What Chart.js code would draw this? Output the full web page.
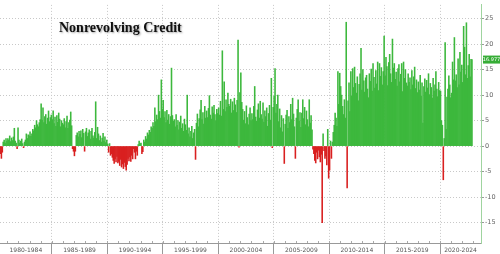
<!DOCTYPE html>
<html>
<head>
<meta charset="utf-8">
<script src="https://cdn.jsdelivr.net/npm/chart.js@4.4.1/dist/chart.umd.min.js"></script>
<style>
  html, body { margin: 0; padding: 0; background: #fff; }
  canvas { display: block; }
</style>
</head>
<body>
<canvas id="creditChart" width="500" height="254"></canvas>
<script>
// monthly change in nonrevolving consumer credit, $bn, May 1980 .. Nov 2022
const startYear = 1980;
const startMonth = 4; // May
const monthlyChange = [
  -1.5, -2.4, -1.2, 0.8, 1.2, 0.6, 1.5, 1.0,                      // 1980
  1.5, 1.2, 2.0, 0.9, 1.6, 1.1, 1.8, 3.5, 1.0, 0.6, -0.5, 3.6,    // 1981
  1.2, 0.6, 1.0, 1.4, 0.5, -0.3, 0.8, 1.2, 2.4, 1.5, 2.2, 2.0,    // 1982
  2.8, 1.9, 2.4, 3.3, 3.0, 4.1, 3.6, 5.0, 4.2, 3.8, 4.6, 5.2,     // 1983
  8.3, 5.1, 7.5, 4.6, 5.8, 6.2, 4.3, 5.5, 6.9, 4.8, 5.6, 6.1,     // 1984
  5.2, 6.9, 4.4, 5.7, 3.9, 6.0, 4.7, 6.5, 5.3, 3.8, 5.0, 4.5,     // 1985
  4.2, 5.4, 3.6, 4.8, 5.9, 3.5, 4.6, 5.1, 6.7, 4.0, -0.5, -1.0,   // 1986
  -1.9, -1.0, 2.1, 2.6, 1.8, 2.9, 2.3, 3.0, 1.7, 3.3, 2.5, -1.0,  // 1987
  2.8, 3.5, 1.9, 2.6, 3.2, 1.4, 2.9, 3.5, 2.0, 1.6, 2.7, 8.7,     // 1988
  1.5, 3.7, 2.4, 1.1, 2.0, 0.8, 1.6, 2.5, 1.0, 1.8, 0.7, 1.2,     // 1989
  0.4, -1.2, 0.5, -1.8, -1.5, -2.2, -2.8, -3.4, -2.5, -3.1, -2.0, -3.3, // 1990
  -3.0, -3.8, -2.6, -4.1, -3.5, -4.4, -3.2, -4.0, -4.7, -3.6, -2.4, -2.9, // 1991
  -2.1, -3.0, -1.8, -2.5, -0.5, -1.2, -2.5, -1.0, -1.8, 0.3, 1.0, 0.5, // 1992
  0.6, -1.5, -1.1, 1.2, 0.8, 1.9, 1.4, 2.6, 2.2, 3.1, 2.7, 3.8,   // 1993
  3.5, 4.6, 3.9, 7.5, 4.8, 6.1, 5.2, 10.0, 6.8, 5.5, 13.0, 7.2,   // 1994
  9.0, 5.6, 6.8, 4.6, 7.0, 5.1, 6.2, 4.3, 5.8, 15.3, 6.0, 4.9,    // 1995
  5.2, 3.8, 6.2, 4.1, 5.0, 3.2, 4.7, 5.9, 3.5, 4.4, 2.9, 5.3,     // 1996
  4.2, 3.1, 10.0, 2.4, 3.6, 1.8, 2.9, 3.9, 1.5, 2.6, 3.3, -2.6,   // 1997
  4.5, 6.3, 3.8, 5.4, 7.1, 9.0, 5.2, 6.6, 4.3, 7.8, 5.5, 6.9,     // 1998
  5.6, 7.4, 9.9, 6.1, 5.3, 7.7, 6.5, 8.0, 6.2, 5.0, 7.2, 6.4,     // 1999
  7.5, 6.1, 8.8, 5.9, 18.7, 7.2, 12.6, 6.8, 9.1, 7.6, 10.4, 8.2,  // 2000
  7.8, 9.2, 6.5, 8.7, 7.0, 9.4, 8.1, 6.6, 9.0, 20.8, -0.2, 10.5,  // 2001
  14.4, 8.6, 7.2, 5.1, 6.8, 4.4, 7.9, 5.6, 4.2, 6.3, 7.5, 5.0,    // 2002
  6.4, 5.2, 7.8, 11.7, 5.7, 4.9, 7.1, 8.3, 5.5, 8.8, 6.2, 5.3,    // 2003
  8.5, 4.7, 6.9, 5.8, 7.5, 3.9, 6.4, 8.0, 5.1, 13.3, -0.3, 7.6,   // 2004
  9.8, 15.2, 6.5, 8.2, 10.0, 4.8, 7.3, 3.6, 6.0, 2.8, 5.4, -3.4,  // 2005
  4.3, 6.1, 7.0, 3.5, 5.8, 4.6, 8.2, 5.2, 9.4, 6.3, 3.8, -2.4,    // 2006
  5.5, 7.2, 9.1, 4.9, 6.6, 3.7, 6.5, 9.1, 5.4, 7.6, 4.2, 6.9,     // 2007
  5.2, 3.8, 9.1, 4.5, 6.0, 3.2, -0.6, -1.5, -2.8, -3.3, -1.2, -2.5, // 2008
  -0.8, -2.1, -3.1, -1.6, -15.0, 2.4, -0.9, -2.4, -1.9, -3.7, 3.3, -6.3, // 2009
  -4.7, 1.0, -2.4, 0.8, 2.7, 4.1, 6.5, 5.5, 3.9, 14.6, 8.2, 14.3, // 2010
  11.7, 10.0, 7.8, 6.2, 9.1, 5.5, 24.3, -8.2, 8.9, 12.4, 6.8, 14.6, // 2011
  9.8, 15.2, 11.5, 15.5, 12.3, 10.4, 13.6, 8.9, 12.1, 14.2, 19.2, 11.0, // 2012
  15.0, 12.8, 10.6, 13.4, 13.9, 11.2, 9.5, 14.2, 12.7, 15.1, 10.8, 16.2, // 2013
  13.5, 11.4, 14.8, 12.2, 16.5, 10.9, 16.2, 13.7, 15.4, 12.0, 14.6, 21.6, // 2014
  13.8, 17.4, 15.6, 11.9, 16.4, 18.0, 14.2, 12.5, 21.0, 15.3, 16.2, 13.1, // 2015
  14.5, 11.8, 15.2, 16.0, 12.6, 14.1, 16.2, 10.7, 16.5, 13.3, 15.0, 12.4, // 2016
  11.8, 14.2, 12.5, 13.4, 11.1, 14.8, 12.0, 13.6, 15.5, 11.3, 13.0, 10.5, // 2017
  12.6, 11.0, 13.9, 9.8, 12.4, 4.5, 11.7, 13.2, 10.6, 12.9, 11.4, 14.2,   // 2018
  10.1, 12.3, 11.5, 9.4, 13.3, 10.8, 12.0, 14.6, 11.2, 9.7, 12.5, 10.9,   // 2019
  10.8, 5.0, 4.1, -6.6, 1.5, 20.3, 3.3, 9.6, 11.2, 13.8, 12.0, 9.5,       // 2020
  10.4, 16.5, 13.0, 21.3, 12.8, 14.0, 11.5, 17.1, 12.0, 18.4, 14.5, 15.9, // 2021
  12.5, 23.5, 19.4, 14.0, 24.2, 13.3, 15.8, 18.0, 13.6, 17.0, 16.977      // 2022
];

const periodStarts = [1980, 1985, 1990, 1995, 2000, 2005, 2010, 2015, 2020];
const periodLabels = ['1980-1984', '1985-1989', '1990-1994', '1995-1999', '2000-2004',
                      '2005-2009', '2010-2014', '2015-2019', '2020-2024'];
const yTickValues = [-15, -10, -5, 0, 5, 10, 15, 20, 25];
const chartTitle = 'Nonrevolving Credit';

const GREEN = '#3db83d';
const RED = '#d92020';

const points = monthlyChange.map((v, i) => ({ x: startYear + (startMonth + i + 0.5) / 12, y: v }));
const lastValue = monthlyChange[monthlyChange.length - 1];

const overlay = {
  id: 'overlay',
  afterDraw(chart) {
    const { ctx, chartArea, scales: { x, y } } = chart;
    ctx.save();

    // small yearly ticks on the x axis
    ctx.strokeStyle = '#aaa';
    ctx.lineWidth = 1;
    for (let yr = 1981; yr <= 2023; yr++) {
      const px = Math.round(x.getPixelForValue(yr)) + 0.5;
      if (px < chartArea.left || px > chartArea.right) continue;
      ctx.beginPath();
      ctx.moveTo(px, chartArea.bottom - 2);
      ctx.lineTo(px, chartArea.bottom);
      ctx.stroke();
    }

    // period labels centred in the visible part of each 5-year block
    ctx.fillStyle = '#555';
    ctx.font = '6px "DejaVu Sans"';
    ctx.textAlign = 'center';
    ctx.textBaseline = 'middle';
    periodStarts.forEach((s, i) => {
      const a = Math.max(s, x.min);
      const b = Math.min(s + 5, x.max);
      const cx = (x.getPixelForValue(a) + x.getPixelForValue(b)) / 2;
      ctx.fillText(periodLabels[i], cx, 250);
    });

    // title
    ctx.font = 'bold 14px "Liberation Serif"';
    ctx.textAlign = 'left';
    ctx.textBaseline = 'alphabetic';
    ctx.shadowColor = 'rgba(0,0,0,0.35)';
    ctx.shadowBlur = 2;
    ctx.shadowOffsetX = 1;
    ctx.shadowOffsetY = 1;
    ctx.fillStyle = '#111';
    ctx.fillText(chartTitle, 59, 32);
    ctx.shadowColor = 'transparent';

    // last value tag on the right axis
    const ly = y.getPixelForValue(lastValue);
    ctx.fillStyle = '#36ad36';
    ctx.fillRect(483, ly - 4, 17, 8);
    ctx.fillStyle = '#fff';
    ctx.font = '5px "DejaVu Sans"';
    ctx.textAlign = 'center';
    ctx.textBaseline = 'middle';
    ctx.fillText(lastValue.toFixed(3), 491.5, ly + 0.5);

    ctx.restore();
  }
};

new Chart(document.getElementById('creditChart'), {
  type: 'bar',
  data: {
    datasets: [{
      data: points,
      backgroundColor: points.map(p => p.y >= 0 ? GREEN : RED),
      borderWidth: 0,
      barPercentage: 1,
      categoryPercentage: 1
    }]
  },
  options: {
    responsive: false,
    animation: false,
    layout: { padding: 0 },
    plugins: { legend: { display: false }, tooltip: { enabled: false } },
    scales: {
      x: {
        type: 'linear',
        min: 1980.333,
        max: 2023.69,
        offset: false,
        afterBuildTicks: s => { s.ticks = periodStarts.slice(1).map(v => ({ value: v })); },
        afterFit: s => { s.height = 11; },
        ticks: { display: false },
        grid: {
          offset: false,
          color: '#c8c8c8',
          tickLength: 11,
          tickColor: '#999',
          tickBorderDash: []
        },
        border: { color: '#999', dash: [1, 2] }
      },
      y: {
        position: 'right',
        min: -19,
        max: 27.7,
        afterBuildTicks: s => { s.ticks = yTickValues.map(v => ({ value: v })); },
        afterFit: s => { s.width = 19; },
        ticks: { color: '#666', font: { size: 6.5, family: 'DejaVu Sans' }, padding: 1 },
        grid: {
          color: '#c8c8c8',
          tickLength: 3,
          tickColor: '#999',
          tickBorderDash: []
        },
        border: { color: '#9fd49f', dash: [1, 2] }
      }
    }
  },
  plugins: [overlay]
});
</script>
</body>
</html>
